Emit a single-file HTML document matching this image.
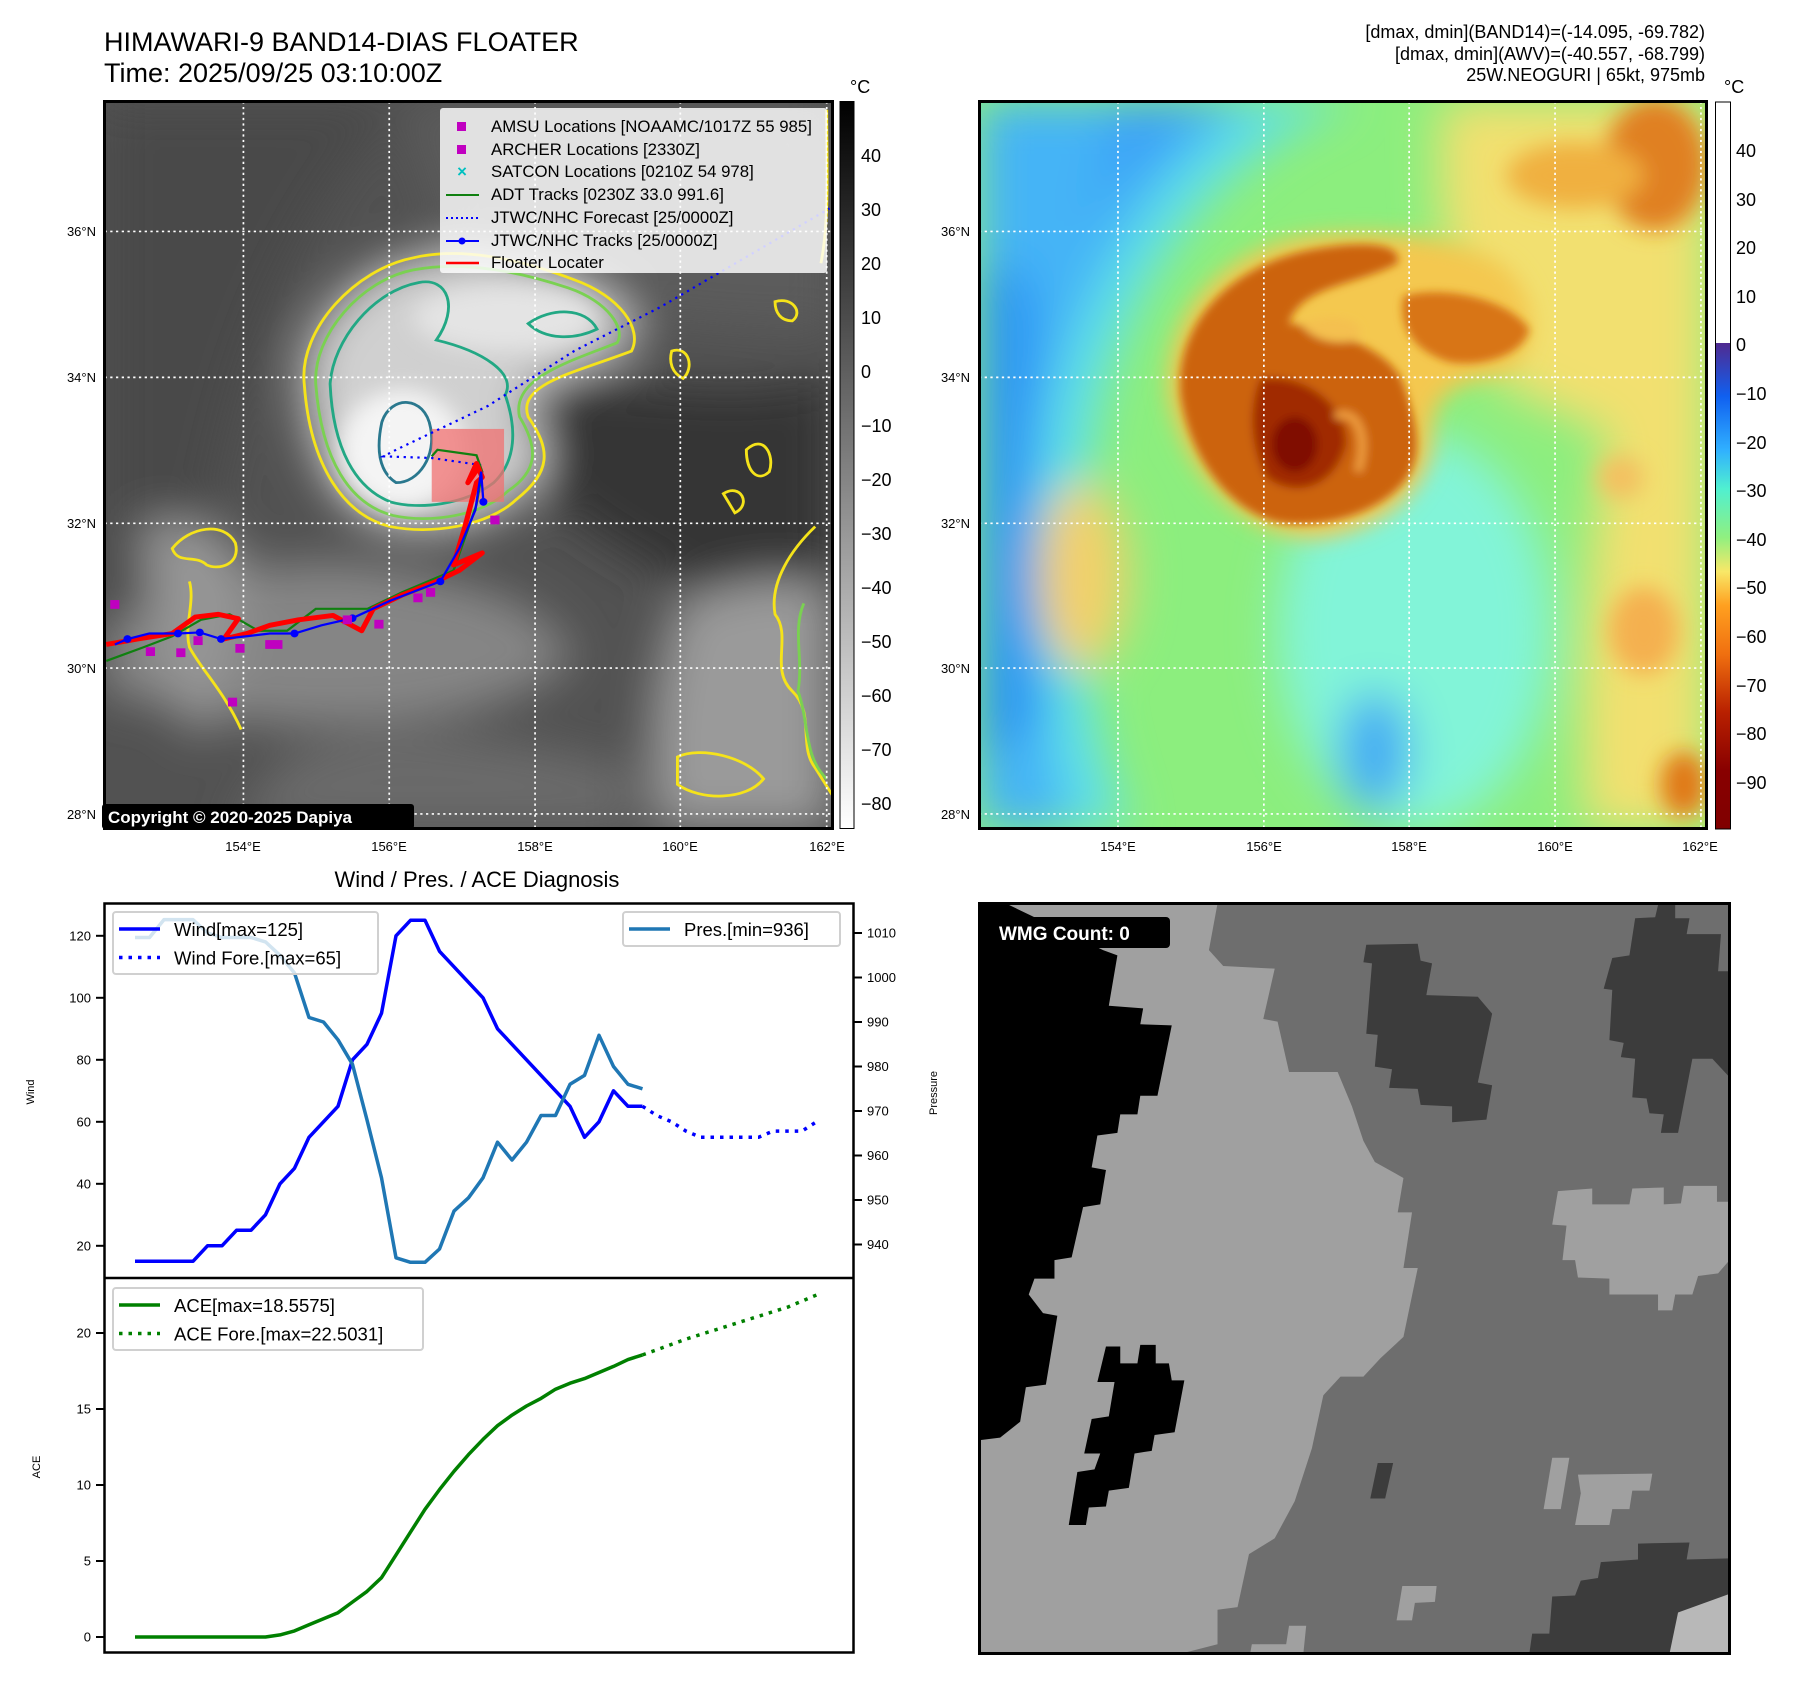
<!DOCTYPE html>
<html><head><meta charset="utf-8"><style>
html,body{margin:0;padding:0;background:#fff;}
svg{display:block;font-family:"Liberation Sans","DejaVu Sans",sans-serif;}
</style></head><body>
<svg id="fig" width="1797" height="1690" viewBox="0 0 1797 1690" xmlns="http://www.w3.org/2000/svg">
<defs>
<clipPath id="cL"><rect x="182" y="185" width="1268" height="1325"/></clipPath>
<clipPath id="cR"><rect x="138" y="185" width="1272" height="1325"/></clipPath>
<clipPath id="cB"><rect x="138" y="82" width="1312" height="1416"/></clipPath>
<filter id="b40" x="-50%" y="-50%" width="200%" height="200%"><feGaussianBlur stdDeviation="40"/></filter>
<filter id="b20" x="-50%" y="-50%" width="200%" height="200%"><feGaussianBlur stdDeviation="20"/></filter>
<filter id="b8" x="-50%" y="-50%" width="200%" height="200%"><feGaussianBlur stdDeviation="8"/></filter>
<linearGradient id="gL" x1="0" y1="0" x2="0" y2="1"><stop offset="0" stop-color="#000"/><stop offset="1" stop-color="#fff"/></linearGradient>
<linearGradient id="gR" x1="0" y1="0" x2="0" y2="1">
<stop offset="0" stop-color="#800000"/><stop offset="0.12" stop-color="#880000"/><stop offset="0.24" stop-color="#b82000"/>
<stop offset="0.36" stop-color="#f07010"/><stop offset="0.46" stop-color="#ffa020"/><stop offset="0.53" stop-color="#f8e868"/><stop offset="0.6" stop-color="#90f080"/>
<stop offset="0.7" stop-color="#50f0d0"/><stop offset="0.78" stop-color="#30b0ff"/><stop offset="0.89" stop-color="#1060f0"/>
<stop offset="1" stop-color="#502a90"/></linearGradient>
</defs>

<text x="104" y="51" font-size="27" fill="#000">HIMAWARI-9 BAND14-DIAS FLOATER</text>
<text x="104" y="82" font-size="27" fill="#000">Time: 2025/09/25 03:10:00Z</text>
<text x="1705" y="38" font-size="18" text-anchor="end">[dmax, dmin](BAND14)=(-14.095, -69.782)</text>
<text x="1705" y="60" font-size="18" text-anchor="end">[dmax, dmin](AWV)=(-40.557, -68.799)</text>
<text x="1705" y="81" font-size="18" text-anchor="end">25W.NEOGURI | 65kt, 975mb</text>

<g>
<g transform="scale(0.5741,0.5485)" clip-path="url(#cL)">
 <rect x="182" y="185" width="1268" height="1325" fill="#525252"/>
 <g filter="url(#b40)">
  <path d="M182,185 L700,185 C600,300 450,500 380,900 L182,1300 Z" fill="#4a4a4a"/>
  <path d="M950,700 C1100,680 1300,740 1450,680 L1450,1200 C1250,1100 1050,1000 950,900 Z" fill="#363636"/>
  <path d="M700,185 L1450,185 L1450,600 C1200,600 950,560 800,500 Z" fill="#5c5c5c"/>
  <path d="M182,1150 C350,1050 500,1000 700,1040 C850,1070 950,1100 1000,1200 C900,1300 700,1330 500,1320 C350,1310 250,1280 182,1260 Z" fill="#858585"/>
  <path d="M250,950 C330,940 420,960 430,1050 C420,1150 380,1300 350,1350 C300,1300 250,1150 250,950 Z" fill="#959595"/>
  <path d="M1180,1100 C1280,1050 1450,1030 1450,1100 L1450,1510 L1150,1510 C1120,1400 1130,1250 1180,1100 Z" fill="#9a9a9a"/>
  <path d="M500,1380 C700,1300 900,1350 1100,1400 L1100,1510 L400,1510 Z" fill="#6a6a6a"/>
  <path d="M530,700 C520,600 620,490 720,470 C800,450 900,470 1000,510 C1080,540 1120,600 1100,640 C1000,680 900,700 920,760 C960,820 960,860 900,910 C850,960 750,975 680,960 C600,940 540,850 530,700 Z" fill="#d0d0d0"/>
 </g>
 <g filter="url(#b20)">
  <ellipse cx="700" cy="820" rx="110" ry="110" fill="#f4f4f4"/>
  <ellipse cx="880" cy="580" rx="160" ry="60" fill="#e4e4e4"/>
 </g>
 <g fill="none" stroke-width="5">
  <path d="M530,700 C520,600 620,490 720,470 C800,450 900,470 1000,510 C1080,540 1120,600 1100,640 C1000,680 900,700 920,760 C960,820 960,860 900,910 C850,960 750,975 680,960 C600,940 540,850 530,700 Z" stroke="#f5e31a"/>
  <path d="M550,700 C545,610 630,510 720,492 C800,476 890,490 990,525 C1060,550 1090,600 1075,625 C990,660 890,690 905,760 C940,820 935,860 885,895 C840,940 750,955 685,940 C610,920 560,840 550,700 Z" stroke="#7ad151"/>
  <path d="M575,700 C580,620 650,530 730,515 C780,505 800,560 760,620 C840,640 900,680 880,720 C900,780 900,840 860,880 C810,920 730,930 680,915 C620,890 580,820 575,700 Z" stroke="#22a884"/>
  <path d="M920,590 C960,560 1020,560 1040,600 C1000,620 950,620 920,590 Z" stroke="#22a884"/>
  <path d="M665,770 C680,720 740,720 750,780 C760,830 730,880 690,880 C660,860 655,820 665,770 Z" stroke="#2a788e"/>
  <path d="M300,1000 C330,960 390,950 410,990 C420,1030 380,1040 360,1030 C340,1010 310,1030 300,1000 Z" stroke="#f5e31a"/>
  <path d="M330,1060 C340,1100 320,1140 330,1180 C350,1220 390,1260 420,1330" stroke="#f5e31a"/>
  <path d="M1300,820 C1330,790 1350,830 1340,860 C1320,880 1300,860 1300,820 Z M1260,900 C1290,880 1310,920 1280,935 Z M1350,550 C1380,540 1400,570 1380,585 C1360,585 1350,570 1350,550 Z M1170,640 C1200,630 1210,670 1190,690 C1170,680 1165,660 1170,640 Z" stroke="#f5e31a"/>
  <path d="M1420,960 C1380,1000 1340,1060 1350,1120 C1380,1160 1340,1220 1380,1260 C1420,1300 1390,1360 1420,1400 L1450,1450 M1180,1380 C1220,1360 1300,1380 1330,1420 C1300,1460 1220,1460 1180,1430 Z" stroke="#f5e31a"/>
  <path d="M1400,1100 C1380,1150 1400,1200 1390,1260 C1410,1320 1400,1380 1440,1420" stroke="#7ad151"/>
  <path d="M1440,200 C1440,300 1445,400 1430,480" stroke="#f5e31a"/>
 </g>
 <g stroke="#fff" stroke-width="3" stroke-dasharray="4 6" fill="none">
  <line x1="424" y1="185" x2="424" y2="1510"/><line x1="678" y1="185" x2="678" y2="1510"/><line x1="932" y1="185" x2="932" y2="1510"/><line x1="1185" y1="185" x2="1185" y2="1510"/><line x1="1440" y1="185" x2="1440" y2="1510"/>
  <line x1="182" y1="422" x2="1450" y2="422"/><line x1="182" y1="688" x2="1450" y2="688"/><line x1="182" y1="954" x2="1450" y2="954"/><line x1="182" y1="1218" x2="1450" y2="1218"/><line x1="182" y1="1484" x2="1450" y2="1484"/>
 </g>
 <rect x="752" y="782" width="126" height="133" fill="#f07070" opacity="0.75"/>
 <polyline points="838,848 752,835 668,832 690,820 850,740 1000,640 1150,560 1445,380" fill="none" stroke="#0000ff" stroke-width="4" stroke-dasharray="4 8"/>
 <polyline points="185,1205 250,1180 300,1160 350,1130 400,1120 450,1150 500,1150 550,1110 640,1110 700,1080 790,1040 830,920 840,860 830,830 762,820 752,832" fill="none" stroke="#108010" stroke-width="4"/>
 <polyline points="185,1175 240,1165 300,1155 340,1125 380,1120 415,1128 390,1165 430,1155 470,1140 520,1130 580,1122 630,1150 650,1110 700,1085 760,1060 800,1040 840,1008 790,1030 810,960 830,880 840,870 830,845 815,880 835,850" fill="none" stroke="#ff0000" stroke-width="9" stroke-linejoin="round"/>
 <polyline points="200,1175 222,1165 260,1155 310,1155 348,1153 385,1165 430,1160 470,1155 513,1155 560,1140 614,1127 680,1095 767,1060 800,1000 828,930 838,860 842,915" fill="none" stroke="#0000ff" stroke-width="4"/>
 <g fill="#0000ff"><circle cx="222" cy="1165" r="7"/><circle cx="310" cy="1155" r="7"/><circle cx="348" cy="1153" r="7"/><circle cx="385" cy="1165" r="7"/><circle cx="513" cy="1155" r="7"/><circle cx="614" cy="1127" r="7"/><circle cx="767" cy="1060" r="7"/><circle cx="842" cy="915" r="7"/></g>
 <g fill="#c000c0">
  <rect x="192" y="1094" width="16" height="16"/><rect x="854" y="940" width="16" height="16"/><rect x="720" y="1082" width="16" height="16"/><rect x="742" y="1072" width="16" height="16"/><rect x="652" y="1130" width="16" height="16"/><rect x="397" y="1272" width="16" height="16"/><rect x="307" y="1182" width="16" height="16"/><rect x="254" y="1180" width="16" height="16"/><rect x="462" y="1167" width="16" height="16"/><rect x="476" y="1167" width="16" height="16"/><rect x="410" y="1174" width="16" height="16"/><rect x="337" y="1160" width="16" height="16"/><rect x="597" y="1122" width="16" height="16"/>
 </g>
</g>
<rect x="104.5" y="101.5" width="728" height="727" fill="none" stroke="#000" stroke-width="3"/>
<g>
 <rect x="440" y="108" width="387" height="165" fill="#fff" opacity="0.82" rx="3"/>
 <g font-size="16.8" fill="#000">
  <rect x="457" y="122" width="9" height="9" fill="#c000c0"/><text x="491" y="132">AMSU Locations [NOAAMC/1017Z 55 985]</text>
  <rect x="457" y="145" width="9" height="9" fill="#c000c0"/><text x="491" y="155">ARCHER Locations [2330Z]</text>
  <text x="462" y="177" text-anchor="middle" fill="#00c0c0" font-weight="bold">×</text><text x="491" y="177">SATCON Locations [0210Z 54 978]</text>
  <line x1="446" y1="195" x2="479" y2="195" stroke="#108010" stroke-width="2"/><text x="491" y="200">ADT Tracks [0230Z 33.0 991.6]</text>
  <line x1="446" y1="218" x2="479" y2="218" stroke="#0000ff" stroke-width="2" stroke-dasharray="2 3"/><text x="491" y="223">JTWC/NHC Forecast [25/0000Z]</text>
  <line x1="446" y1="241" x2="479" y2="241" stroke="#0000ff" stroke-width="2"/><circle cx="462" cy="241" r="3.5" fill="#0000ff"/><text x="491" y="246">JTWC/NHC Tracks [25/0000Z]</text>
  <line x1="446" y1="263" x2="479" y2="263" stroke="#ff0000" stroke-width="2.5"/><text x="491" y="268">Floater Locater</text>
 </g>
</g>
<rect x="102" y="804" width="312" height="25" rx="3" fill="#000"/>
<text x="108" y="823" font-size="17" font-weight="bold" fill="#fff">Copyright © 2020-2025 Dapiya</text>
<g font-size="13" fill="#000" text-anchor="end">
 <text x="96" y="236">36°N</text><text x="96" y="382">34°N</text><text x="96" y="528">32°N</text><text x="96" y="673">30°N</text><text x="96" y="819">28°N</text>
</g>
<g font-size="13" fill="#000" text-anchor="middle">
 <text x="243" y="851">154°E</text><text x="389" y="851">156°E</text><text x="535" y="851">158°E</text><text x="680" y="851">160°E</text><text x="827" y="851">162°E</text>
</g>
<g>
 <rect x="840" y="101.5" width="14" height="727" fill="url(#gL)" stroke="#000" stroke-width="1"/>
 <text x="850" y="93" font-size="18">°C</text>
 <g font-size="18" fill="#000">
  <text x="861" y="162">40</text><text x="861" y="216">30</text><text x="861" y="270">20</text><text x="861" y="324">10</text><text x="861" y="378">0</text><text x="861" y="432">−10</text><text x="861" y="486">−20</text><text x="861" y="540">−30</text><text x="861" y="594">−40</text><text x="861" y="648">−50</text><text x="861" y="702">−60</text><text x="861" y="756">−70</text><text x="861" y="810">−80</text>
 </g>
</g>
</g>

<g>
<g transform="translate(900,0) scale(0.5721,0.5485)" clip-path="url(#cR)">
 <rect x="138" y="185" width="1272" height="1325" fill="#8cee7e"/>
 <g filter="url(#b40)">
  <path d="M138,185 L800,185 C600,260 450,420 360,700 C300,950 300,1250 400,1510 L138,1510 Z" fill="#5ee0e8"/>
  <path d="M138,185 L620,185 C460,300 320,500 260,750 C220,1000 230,1250 300,1510 L138,1510 Z" fill="#44b4f6"/>
  <path d="M138,500 C200,450 250,500 240,700 C220,900 230,1100 260,1300 L138,1400 Z" fill="#2a94f4"/>
  <path d="M380,185 L560,185 C450,260 380,330 330,420 Z" fill="#3aa0f8"/>
  <ellipse cx="900" cy="1150" rx="240" ry="360" fill="#82f4d8"/>
  <ellipse cx="830" cy="1370" rx="60" ry="110" fill="#40a8f4"/>
  <path d="M950,185 L1410,185 L1410,900 C1300,800 1150,760 1050,700 C980,600 920,400 950,185 Z" fill="#f2e070"/>
  <path d="M1250,700 L1410,700 L1410,1510 L1200,1510 C1180,1300 1200,1000 1250,700 Z" fill="#f2e070"/>
  <ellipse cx="320" cy="1050" rx="80" ry="170" fill="#f2d06a"/>
 </g>
 <g filter="url(#b20)">
  <ellipse cx="1320" cy="300" rx="90" ry="120" fill="#e08020"/>
  <ellipse cx="1180" cy="320" rx="120" ry="60" fill="#f0b040"/>
  <ellipse cx="1370" cy="1430" rx="40" ry="60" fill="#e07818"/>
  <ellipse cx="1300" cy="1150" rx="60" ry="80" fill="#f4b050"/>
  <ellipse cx="1260" cy="870" rx="40" ry="40" fill="#f4c060"/>
  <path d="M470,720 C460,560 580,450 720,430 C820,420 950,420 1050,480 C1120,540 1120,640 1060,680 C960,700 930,720 930,800 C930,880 860,960 740,980 C620,990 500,880 470,720 Z" fill="#f4c850"/>
 </g>
 <g filter="url(#b8)">
  <path d="M490,720 C480,580 590,480 720,455 C800,440 880,440 870,480 C800,520 700,520 680,590 C760,600 860,640 880,700 C900,760 920,830 880,880 C830,940 740,960 680,955 C600,950 510,860 490,720 Z" fill="#cc6410"/>
  <path d="M880,540 C940,520 1060,540 1100,600 C1090,650 1010,670 960,660 C900,640 870,600 880,540 Z" fill="#d87418"/>
  <path d="M630,690 C700,680 780,730 780,810 C760,890 690,910 640,870 C610,810 610,740 630,690 Z" fill="#a02a00"/>
  <ellipse cx="690" cy="810" rx="40" ry="50" fill="#800800"/>
  <path d="M700,590 C760,570 820,580 800,620 C760,630 720,620 700,590 Z" fill="#f4c050"/>
  <path d="M760,760 C800,740 820,800 800,860" stroke="#f0a040" stroke-width="14" fill="none"/>
 </g>
 <g stroke="#fff" stroke-width="3" stroke-dasharray="4 6" fill="none">
  <line x1="381" y1="185" x2="381" y2="1510"/><line x1="636" y1="185" x2="636" y2="1510"/><line x1="890" y1="185" x2="890" y2="1510"/><line x1="1145" y1="185" x2="1145" y2="1510"/><line x1="1400" y1="185" x2="1400" y2="1510"/>
  <line x1="138" y1="422" x2="1410" y2="422"/><line x1="138" y1="688" x2="1410" y2="688"/><line x1="138" y1="954" x2="1410" y2="954"/><line x1="138" y1="1218" x2="1410" y2="1218"/><line x1="138" y1="1484" x2="1410" y2="1484"/>
 </g>
</g>
<rect x="979.5" y="101.5" width="727" height="727" fill="none" stroke="#000" stroke-width="3"/>
<g font-size="13" fill="#000" text-anchor="end">
 <text x="970" y="236">36°N</text><text x="970" y="382">34°N</text><text x="970" y="528">32°N</text><text x="970" y="673">30°N</text><text x="970" y="819">28°N</text>
</g>
<g font-size="13" fill="#000" text-anchor="middle">
 <text x="1118" y="851">154°E</text><text x="1264" y="851">156°E</text><text x="1409" y="851">158°E</text><text x="1555" y="851">160°E</text><text x="1700" y="851">162°E</text>
</g>
<g>
 <rect x="1715" y="102" width="15" height="241" fill="#fff"/>
 <rect x="1715" y="343" width="15" height="486" fill="url(#gR)" transform="rotate(180 1722.5 586)"/>
 <rect x="1715.5" y="102" width="15" height="727" fill="none" stroke="#000" stroke-width="1"/>
 <text x="1724" y="93" font-size="18">°C</text>
 <g font-size="18" fill="#000">
  <text x="1736" y="157">40</text><text x="1736" y="206">30</text><text x="1736" y="254">20</text><text x="1736" y="303">10</text><text x="1736" y="351">0</text><text x="1736" y="400">−10</text><text x="1736" y="449">−20</text><text x="1736" y="497">−30</text><text x="1736" y="546">−40</text><text x="1736" y="594">−50</text><text x="1736" y="643">−60</text><text x="1736" y="692">−70</text><text x="1736" y="740">−80</text><text x="1736" y="789">−90</text>
 </g>
</g>
</g>

<g>
<g transform="translate(900,860) scale(0.5721,0.5299)" clip-path="url(#cB)">
 <rect x="138" y="82" width="1312" height="1416" fill="#6e6e6e"/>
 <polygon fill="#a0a0a0" points="138,82 555,82 540,170 565,200 655,205 635,300 660,305 680,400 765,400 790,465 810,530 830,570 880,600 870,665 895,665 880,770 905,770 880,900 840,940 810,975 770,975 740,1010 720,1110 690,1210 655,1280 610,1310 590,1410 555,1415 555,1480 490,1498 138,1498"/>
 <polygon fill="#000" points="138,82 185,82 355,170 380,180 365,275 425,280 420,310 475,312 450,445 420,445 415,480 385,480 380,515 345,520 335,580 360,585 350,650 320,655 300,750 270,755 270,790 235,790 225,820 250,855 275,860 255,990 220,995 210,1060 175,1090 138,1095"/>
 <polygon fill="#000" points="360,918 385,918 385,950 415,950 420,915 447,915 447,950 470,950 475,982 497,982 480,1080 445,1085 440,1115 410,1120 400,1185 365,1190 360,1220 330,1222 325,1255 295,1255 310,1155 340,1150 350,1120 322,1120 335,1055 365,1050 375,985 345,985"/>
 <polygon fill="#3c3c3c" points="815,160 905,158 910,190 930,195 920,255 1010,258 1035,290 1010,420 1035,425 1025,490 965,495 965,465 910,462 905,432 855,430 860,395 830,390 835,330 815,328 825,195 810,193"/>
 <polygon fill="#3c3c3c" points="1325,85 1355,85 1355,110 1380,110 1375,140 1435,140 1430,210 1450,210 1450,410 1420,375 1385,375 1360,515 1330,515 1335,480 1310,478 1305,450 1280,448 1285,375 1260,372 1265,345 1240,340 1245,245 1230,243 1245,185 1275,180 1285,110 1320,108"/>
 <polygon fill="#a0a0a0" points="1150,625 1210,620 1210,650 1275,650 1280,620 1335,618 1335,650 1365,648 1370,615 1428,615 1428,645 1450,645 1450,755 1430,780 1395,785 1385,820 1355,820 1350,850 1325,850 1325,820 1240,820 1240,790 1185,788 1180,755 1158,755 1165,690 1140,688"/>
 <polygon fill="#3c3c3c" points="1290,1290 1380,1288 1375,1320 1450,1318 1450,1498 1100,1498 1105,1460 1135,1460 1140,1390 1180,1388 1190,1360 1220,1355 1225,1325 1290,1320"/>
 <polygon fill="#a0a0a0" points="1185,1160 1315,1158 1310,1190 1280,1190 1275,1225 1245,1225 1240,1255 1180,1255 1190,1195"/>
 <polygon fill="#a0a0a0" points="1140,1128 1170,1128 1155,1225 1125,1225"/>
 <polygon fill="#a0a0a0" points="878,1370 938,1370 935,1400 900,1402 895,1435 868,1435"/>
 <polygon fill="#a0a0a0" points="680,1445 710,1445 705,1498 612,1498 615,1480 675,1480"/>
 <polygon fill="#3c3c3c" points="835,1138 862,1138 848,1205 822,1205"/>
 <polygon fill="#b8b8b8" points="1360,1420 1450,1385 1450,1498 1345,1498"/>
</g>
<rect x="979.5" y="903.5" width="750" height="750" fill="none" stroke="#000" stroke-width="3"/>
<rect x="991" y="917" width="179" height="31" rx="4" fill="#000"/>
<text x="999" y="940" font-size="19" font-weight="bold" fill="#fff">WMG Count: 0</text>
</g>

<g id="diag">
 <text x="477" y="887" font-size="22" text-anchor="middle">Wind / Pres. / ACE Diagnosis</text>
 <text transform="translate(34,1092) rotate(-90)" font-size="11" text-anchor="middle">Wind</text>
 <text transform="translate(40,1467) rotate(-90)" font-size="11" text-anchor="middle">ACE</text>
 <text transform="translate(937,1093) rotate(-90)" font-size="11" text-anchor="middle">Pressure</text>
 <g id="marks"></g>
 <rect x="104.5" y="903.5" width="749" height="749" fill="none" stroke="#000" stroke-width="2.5"/>
 <line x1="104" y1="1278" x2="854" y2="1278" stroke="#000" stroke-width="2.5"/>
 <g id="legs"></g>
</g>
</svg>
<script>
const windObs = [15,15,15,15,15,20,20,25,25,30,40,45,55,60,65,80,85,95,120,125,125,115,110,105,100,90,85,80,75,70,65,55,60,70,65,65];
const windFc = [65,62,60,57,55,55,55,55,55,57,57,57,60];
const presObs = [1009,1009,1013,1013,1013,1010,1009,1009,1009,1008,1005,1001,991,990,986,980.5,968,955,937,936,936,939,947.5,950.5,955,963,959,963,969,969,976,978,987,980,976,975];
const aceObs = [0,0,0,0,0,0,0,0,0,0,0.14,0.4,0.8,1.2,1.6,2.3,3.0,3.9,5.4,6.9,8.4,9.7,10.9,12.0,13.0,13.9,14.6,15.2,15.7,16.3,16.7,17.0,17.4,17.8,18.25,18.56];
const aceFc = [18.56,18.9,19.25,19.6,19.9,20.2,20.5,20.8,21.1,21.4,21.7,22.1,22.5];
const windTicks = [20,40,60,80,100,120];
const presTicks = [940,950,960,970,980,990,1000,1010];
const aceTicks = [0,5,10,15,20];

const NS='http://www.w3.org/2000/svg';
const xs = i => 135 + i*14.5;
const yW = v => 935.8 + (120 - v)*3.1;
const yP = p => 933 + (1010 - p)*4.45;
const yA = a => 1637 - a*15.2;
const marks=document.getElementById('marks');
const legs=document.getElementById('legs');
function mk(tag,attrs,parent){const e=document.createElementNS(NS,tag);for(const k in attrs)e.setAttribute(k,attrs[k]);parent.appendChild(e);return e;}
function line(vals,off,yf,color,dash,name){
  const pts=vals.map((v,i)=>xs(i+off).toFixed(1)+','+yf(v).toFixed(1)).join(' ');
  const p=mk('polyline',{points:pts,fill:'none',stroke:color,'stroke-width':3.5,'stroke-linejoin':'round'},marks);
  if(dash)p.setAttribute('stroke-dasharray',dash);
  
  
}
line(windObs,0,yW,'#0000ff',null,'wind-line');
line(windFc,35,yW,'#0000ff','3.5 6','wind-forecast-line');
line(presObs,0,yP,'#1f77b4',null,'pressure-line');
line(aceObs,0,yA,'#008000',null,'ace-line');
line(aceFc,35,yA,'#008000','3.5 6','ace-forecast-line');

function ticks(arr,yf,side){
  arr.forEach(v=>{
    const y=yf(v);
    if(side==='L'){
      mk('line',{x1:96,y1:y,x2:104,y2:y,stroke:'#000','stroke-width':2},marks);
      const t=mk('text',{x:91,y:y+4.5,'font-size':13,'text-anchor':'end'},marks);t.textContent=v;
      
      
    } else {
      mk('line',{x1:854,y1:y,x2:862,y2:y,stroke:'#000','stroke-width':2},marks);
      const t=mk('text',{x:867,y:y+4.5,'font-size':13},marks);t.textContent=v;
      
      
    }
  });
}
ticks(windTicks,yW,'L');ticks(presTicks,yP,'R');ticks(aceTicks,yA,'L');

function legend(x,y,w,h,entries,name){
  const g=mk('g',{},legs);
  
  
  mk('rect',{x:x,y:y,width:w,height:h,rx:3,fill:'#fff','fill-opacity':0.8,stroke:'#d0d0d0','stroke-width':2},g);
  entries.forEach((e,i)=>{
    const cy=y+17+i*28.5;
    const l=mk('line',{x1:x+6,y1:cy,x2:x+47,y2:cy,stroke:e[1],'stroke-width':3.5},g);
    if(e[2])l.setAttribute('stroke-dasharray','3.5 6');
    const t=mk('text',{x:x+61,y:cy+7,'font-size':18.5},g);t.textContent=e[0];
  });
}
legend(113,912,265,62,[['Wind[max=125]','#0000ff',false],['Wind Fore.[max=65]','#0000ff',true]],'wind-legend');
legend(623,912,217,34,[['Pres.[min=936]','#1f77b4',false]],'pressure-legend');
legend(113,1288,310,62,[['ACE[max=18.5575]','#008000',false],['ACE Fore.[max=22.5031]','#008000',true]],'ace-legend');
</script>
</body></html>
